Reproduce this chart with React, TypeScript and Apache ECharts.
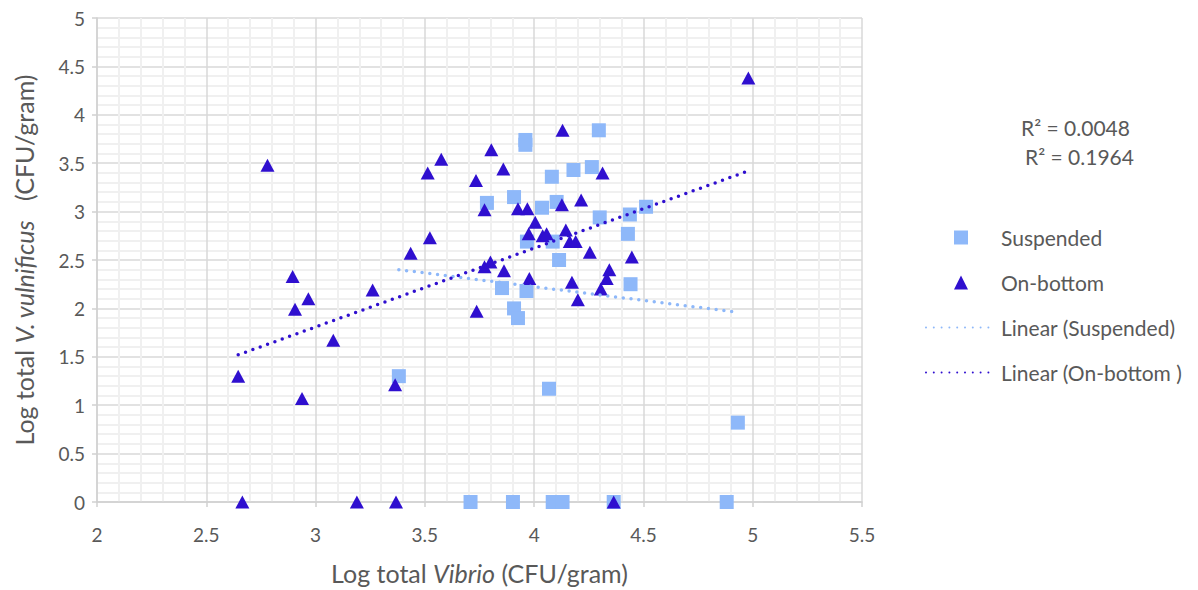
import React, { useEffect, useRef } from "react";
import * as echarts from "echarts";

const suspended: [number, number][] = [
  [3.96, 3.74], [3.96, 3.69], [4.296, 3.84], [4.18, 3.43], [4.264, 3.46],
  [4.081, 3.36], [3.784, 3.09], [3.908, 3.15], [4.103, 3.1], [4.036, 3.04],
  [4.3, 2.94], [4.438, 2.97], [4.512, 3.05], [4.429, 2.77], [3.967, 2.69],
  [4.085, 2.69], [4.114, 2.5], [4.441, 2.25], [3.853, 2.21], [3.965, 2.18],
  [3.908, 2.0], [3.926, 1.9], [4.068, 1.17], [4.932, 0.82], [3.381, 1.3],
  [3.709, 0], [3.903, 0], [4.085, 0], [4.13, 0], [4.364, 0], [4.881, 0],
];

const onBottom: [number, number][] = [
  [4.98, 4.38], [2.78, 3.48], [4.13, 3.84], [3.575, 3.54], [3.513, 3.4],
  [3.804, 3.64], [3.859, 3.44], [3.734, 3.32], [4.313, 3.4], [3.773, 3.02],
  [3.926, 3.03], [3.969, 3.03], [4.127, 3.07], [4.215, 3.12], [4.005, 2.89],
  [3.975, 2.77], [4.039, 2.75], [4.057, 2.77], [4.145, 2.81], [4.163, 2.69],
  [4.19, 2.69], [3.523, 2.73], [3.435, 2.57], [4.255, 2.58], [4.447, 2.53],
  [3.773, 2.43], [3.8, 2.48], [3.862, 2.39], [3.978, 2.31], [4.344, 2.4],
  [4.332, 2.31], [4.173, 2.27], [4.305, 2.2], [4.2, 2.09], [3.737, 1.97],
  [2.895, 2.33], [2.967, 2.1], [2.906, 1.99], [3.261, 2.19], [3.081, 1.67],
  [2.646, 1.3], [2.938, 1.07], [3.364, 1.21], [2.665, 0], [3.189, 0],
  [3.368, 0], [4.364, 0],
];

const suspendedTrend: [number, number][] = [[3.381, 2.4], [4.932, 1.96]];
const onBottomTrend: [number, number][] = [[2.646, 1.52], [4.98, 3.42]];

const seriesNames = ["Suspended", "On-bottom", "Linear (Suspended)", "Linear (On-bottom )"];
const r2Labels = ["R² = 0.0048", "R² = 0.1964"];

const LIGHT = "#8EB8F9";
const DARK = "#2F0FCF";
const TEXT = "#595959";
const FONT = "Lato, 'Open Sans', sans-serif";

const SQUARE_ICON = "path://M0,0L10,0L10,10L0,10Z";
const TRIANGLE_ICON = "path://M5,0L10,10L0,10Z";

export default function App() {
  const ref = useRef<HTMLDivElement>(null);
  useEffect(() => {
    if (!ref.current) return;
    const chart = echarts.init(ref.current, undefined, { renderer: "svg" });
    const axisCommon = {
      type: "value" as const,
      axisLine: { show: true, lineStyle: { color: "#D0D0D0", width: 1.5 } },
      axisTick: { show: true, length: 5, lineStyle: { color: "#D0D0D0", width: 1.5 } },
      splitLine: { show: true, lineStyle: { color: "#D9D9D9", width: 1.5 } },
      minorTick: { show: false, splitNumber: 5 },
      minorSplitLine: { show: true, lineStyle: { color: "#F0F0F0", width: 2 } },
      axisLabel: { color: TEXT, fontSize: 19, fontFamily: FONT },
    };
    const titleRich = {
      a: { color: TEXT, fontSize: 25, fontFamily: FONT },
      b: { color: TEXT, fontSize: 25, fontFamily: FONT, fontStyle: "italic" },
    };
    chart.setOption({
      animation: false,
      backgroundColor: "#ffffff",
      textStyle: { fontFamily: FONT },
      grid: { left: 97, right: 336, top: 18, bottom: 86, containLabel: false },
      xAxis: {
        ...axisCommon,
        min: 2,
        max: 5.5,
        interval: 0.5,
        axisLabel: { ...axisCommon.axisLabel, margin: 23 },
        name: "{a|Log total }{b|Vibrio}{a| (CFU/gram)}",
        nameLocation: "middle",
        nameGap: 58,
        nameTextStyle: { rich: titleRich },
      },
      yAxis: {
        ...axisCommon,
        min: 0,
        max: 5,
        interval: 0.5,
        axisLabel: { ...axisCommon.axisLabel, margin: 12 },
        name: "{a|Log total }{b|V. vulnificus}{a|   (CFU/gram)}",
        nameLocation: "middle",
        nameRotate: 90,
        nameGap: 61,
        nameTextStyle: { rich: titleRich },
      },
      legend: {
        orient: "vertical",
        left: 920,
        top: 222,
        itemWidth: 70,
        itemHeight: 14,
        itemGap: 24,
        symbolKeepAspect: true,
        data: [
          { name: seriesNames[0], icon: SQUARE_ICON },
          { name: seriesNames[1], icon: TRIANGLE_ICON },
          { name: seriesNames[2] },
          { name: seriesNames[3] },
        ],
        textStyle: { color: TEXT, fontSize: 21, fontFamily: FONT },
      },
      graphic: r2Labels.map((t, i) => ({
        type: "text",
        left: 1021 + i * 4,
        top: 117 + i * 29,
        style: { text: t, fill: TEXT, font: `21px ${FONT}` },
      })),
      series: [
        {
          name: seriesNames[0],
          type: "scatter",
          symbol: "rect",
          symbolSize: 14,
          itemStyle: { color: LIGHT, opacity: 1 },
          data: suspended,
          z: 2,
        },
        {
          name: seriesNames[1],
          type: "scatter",
          symbol: "triangle",
          symbolSize: [14, 13],
          itemStyle: { color: DARK, opacity: 1 },
          data: onBottom,
          z: 3,
        },
        {
          name: seriesNames[2],
          type: "line",
          symbol: "none",
          showSymbol: false,
          lineStyle: { color: LIGHT, width: 3.5, type: [0, 7.8], cap: "round" },
          itemStyle: { color: "rgba(0,0,0,0)", borderWidth: 0 },
          data: suspendedTrend,
          z: 4,
        },
        {
          name: seriesNames[3],
          type: "line",
          symbol: "none",
          showSymbol: false,
          lineStyle: { color: DARK, width: 3.5, type: [0, 7.8], cap: "round" },
          itemStyle: { color: "rgba(0,0,0,0)", borderWidth: 0 },
          data: onBottomTrend,
          z: 5,
        },
      ],
    });
    return () => chart.dispose();
  }, []);
  return (
    <div
      ref={ref}
      style={{ position: "fixed", left: 0, top: 0, width: 1198, height: 590, background: "#fff" }}
    />
  );
}
